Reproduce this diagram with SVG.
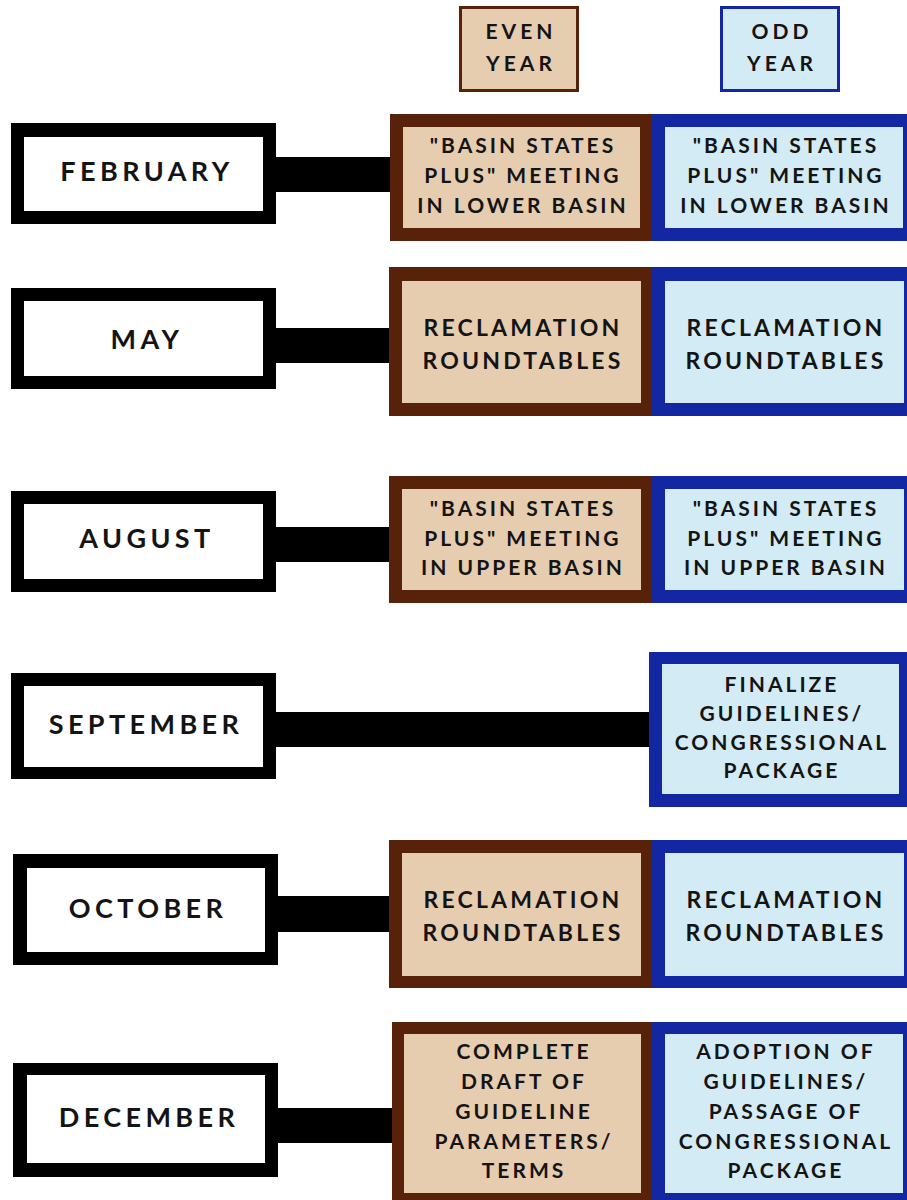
<svg xmlns="http://www.w3.org/2000/svg" width="907" height="1200" viewBox="0 0 907 1200">
<style>
text{font-family:Lato,"Noto Sans","Liberation Sans",sans-serif;font-weight:700;fill:#141414;text-anchor:middle}
.m{font-size:27px;letter-spacing:4.4px}
.b{font-size:21px;letter-spacing:3px}
.r{font-size:23px;letter-spacing:3.2px}
.h{font-size:21px;letter-spacing:4px}
.blk{fill:#000}
.wht{fill:#fff}
.brn{fill:#58220a}
.tan{fill:#e7cdb0}
.blu{fill:#1227a1}
.lb{fill:#d3ebf4}
</style>
<rect width="907" height="1200" fill="#fff"/>
<g id="header-even">
<rect x="460.5" y="7.5" width="117" height="83" fill="#e7cdb0" stroke="#58220a" stroke-width="3"/>
<text class="h" x="521" y="39">EVEN</text>
<text class="h" x="521" y="71">YEAR</text>
</g>
<g id="header-odd">
<rect x="721.5" y="7.5" width="117" height="83" fill="#d3ebf4" stroke="#1227a1" stroke-width="3"/>
<text class="h" x="782" y="39">ODD</text>
<text class="h" x="782" y="71">YEAR</text>
</g>
<g id="connectors">
<rect class="blk" x="275" y="157" width="116" height="35"/>
<rect class="blk" x="275" y="328" width="115" height="35"/>
<rect class="blk" x="275" y="527" width="115" height="35"/>
<rect class="blk" x="275" y="712" width="377" height="35"/>
<rect class="blk" x="277" y="896" width="113" height="36"/>
<rect class="blk" x="277" y="1108" width="116" height="35"/>
</g>
<g id="month-february">
<rect class="blk" x="11" y="123" width="265" height="101"/>
<rect class="wht" x="24" y="137" width="239" height="74"/>
<text class="m" x="147" y="181">FEBRUARY</text>
</g>
<g id="month-may">
<rect class="blk" x="11" y="288" width="265" height="101"/>
<rect class="wht" x="24" y="301" width="239" height="75"/>
<text class="m" x="147" y="349">MAY</text>
</g>
<g id="month-august">
<rect class="blk" x="11" y="491" width="265" height="101"/>
<rect class="wht" x="24" y="504" width="239" height="75"/>
<text class="m" x="147" y="548">AUGUST</text>
</g>
<g id="month-september">
<rect class="blk" x="11" y="673" width="265" height="106"/>
<rect class="wht" x="24" y="686" width="239" height="81"/>
<text class="m" x="146" y="734">SEPTEMBER</text>
</g>
<g id="month-october">
<rect class="blk" x="13" y="854" width="265" height="111"/>
<rect class="wht" x="27" y="868" width="238" height="84"/>
<text class="m" x="148" y="918">OCTOBER</text>
</g>
<g id="month-december">
<rect class="blk" x="13" y="1063" width="265" height="114"/>
<rect class="wht" x="27" y="1075" width="238" height="88"/>
<text class="m" x="149" y="1127">DECEMBER</text>
</g>
<g id="feb-even">
<rect class="brn" x="390" y="114" width="262" height="127"/>
<rect class="tan" x="403" y="127" width="237" height="101"/>
<text class="b" x="523" y="153">"BASIN STATES</text>
<text class="b" x="523" y="183">PLUS" MEETING</text>
<text class="b" x="523" y="213">IN LOWER BASIN</text>
</g>
<g id="feb-odd">
<rect class="blu" x="652" y="114" width="255" height="127"/>
<rect class="lb" x="665" y="127" width="238" height="101"/>
<text class="b" x="786" y="153">"BASIN STATES</text>
<text class="b" x="786" y="183">PLUS" MEETING</text>
<text class="b" x="786" y="213">IN LOWER BASIN</text>
</g>
<g id="may-even">
<rect class="brn" x="389" y="267" width="263" height="149"/>
<rect class="tan" x="402" y="281" width="239" height="122"/>
<text class="r" x="523" y="336">RECLAMATION</text>
<text class="r" x="523" y="369">ROUNDTABLES</text>
</g>
<g id="may-odd">
<rect class="blu" x="652" y="267" width="255" height="149"/>
<rect class="lb" x="665" y="281" width="239" height="122"/>
<text class="r" x="786" y="336">RECLAMATION</text>
<text class="r" x="786" y="369">ROUNDTABLES</text>
</g>
<g id="aug-even">
<rect class="brn" x="389" y="476" width="263" height="127"/>
<rect class="tan" x="402" y="489" width="239" height="101"/>
<text class="b" x="523" y="516">"BASIN STATES</text>
<text class="b" x="523" y="546">PLUS" MEETING</text>
<text class="b" x="523" y="575">IN UPPER BASIN</text>
</g>
<g id="aug-odd">
<rect class="blu" x="652" y="476" width="255" height="127"/>
<rect class="lb" x="665" y="489" width="239" height="101"/>
<text class="b" x="786" y="516">"BASIN STATES</text>
<text class="b" x="786" y="546">PLUS" MEETING</text>
<text class="b" x="786" y="575">IN UPPER BASIN</text>
</g>
<g id="sep-odd">
<rect class="blu" x="649" y="652" width="258" height="155"/>
<rect class="lb" x="662" y="664" width="237" height="130"/>
<text class="b" x="782" y="692">FINALIZE</text>
<text class="b" x="782" y="721">GUIDELINES/</text>
<text class="b" x="782" y="750">CONGRESSIONAL</text>
<text class="b" x="782" y="778">PACKAGE</text>
</g>
<g id="oct-even">
<rect class="brn" x="389" y="840" width="263" height="148"/>
<rect class="tan" x="402" y="853" width="239" height="123"/>
<text class="r" x="523" y="908">RECLAMATION</text>
<text class="r" x="523" y="941">ROUNDTABLES</text>
</g>
<g id="oct-odd">
<rect class="blu" x="652" y="840" width="255" height="148"/>
<rect class="lb" x="665" y="853" width="239" height="123"/>
<text class="r" x="786" y="908">RECLAMATION</text>
<text class="r" x="786" y="941">ROUNDTABLES</text>
</g>
<g id="dec-even">
<rect class="brn" x="392" y="1022" width="260" height="190"/>
<rect class="tan" x="404" y="1034" width="237" height="159"/>
<text class="b" x="524" y="1059">COMPLETE</text>
<text class="b" x="524" y="1089">DRAFT OF</text>
<text class="b" x="524" y="1119">GUIDELINE</text>
<text class="b" x="524" y="1149">PARAMETERS/</text>
<text class="b" x="524" y="1178">TERMS</text>
</g>
<g id="dec-odd">
<rect class="blu" x="652" y="1022" width="255" height="190"/>
<rect class="lb" x="665" y="1034" width="238" height="159"/>
<text class="b" x="786" y="1059">ADOPTION OF</text>
<text class="b" x="786" y="1089">GUIDELINES/</text>
<text class="b" x="786" y="1119">PASSAGE OF</text>
<text class="b" x="786" y="1149">CONGRESSIONAL</text>
<text class="b" x="786" y="1178">PACKAGE</text>
</g>
</svg>
